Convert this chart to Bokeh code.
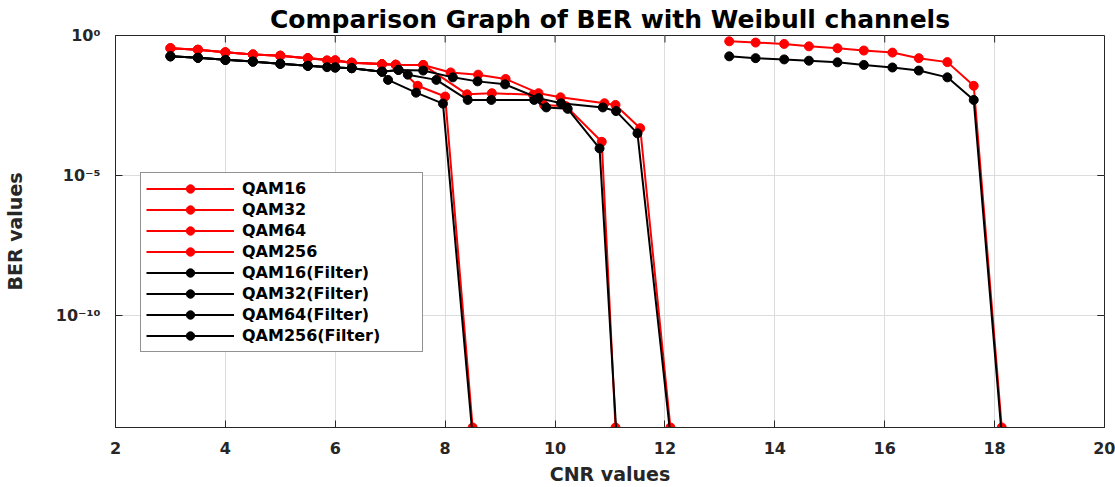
from bokeh.plotting import figure
from bokeh.models import (Range1d, FixedTicker, Legend, LegendItem)
from bokeh.embed import file_html
from bokeh.resources import INLINE

# ---------------- data ----------------
cnr_qam16 = [3.0, 3.5, 4.0, 4.5, 5.0, 5.5, 5.85, 6.3, 6.85, 7.1, 7.5, 8.0, 8.5]
ber_qam16 = [3.5e-1, 3.1e-1, 2.5e-1, 2.1e-1, 1.9e-1, 1.55e-1, 1.3e-1, 1.07e-1,
             9.5e-2, 8.9e-2, 1.6e-2, 6.6e-3, 1e-14]

cnr_qam32 = [3.0, 3.5, 4.0, 4.5, 5.0, 5.5, 6.0, 6.3, 6.85, 7.1, 7.6, 8.4, 8.85,
             9.6, 9.8, 10.2, 10.85, 11.1]
ber_qam32 = [3.5e-1, 3.1e-1, 2.5e-1, 2.1e-1, 1.9e-1, 1.55e-1, 1.3e-1, 1.07e-1,
             9.5e-2, 9.1e-2, 8.9e-2, 7.9e-3, 8.7e-3, 7.6e-3, 3.3e-3, 3.0e-3,
             1.6e-4, 1e-14]

cnr_qam64 = [3.0, 3.5, 4.0, 4.5, 5.0, 5.5, 6.0, 6.3, 6.85, 7.1, 7.6, 8.1, 8.6,
             9.1, 9.7, 10.1, 10.9, 11.1, 11.55, 12.1]
ber_qam64 = [3.5e-1, 3.1e-1, 2.5e-1, 2.1e-1, 1.9e-1, 1.55e-1, 1.3e-1, 1.07e-1,
             9.5e-2, 9.1e-2, 8.9e-2, 4.8e-2, 4.0e-2, 2.8e-2, 8.7e-3, 6.2e-3,
             3.8e-3, 3.3e-3, 4.9e-4, 1e-14]

cnr_qam256 = [13.17, 13.65, 14.17, 14.62, 15.14, 15.62, 16.14, 16.62, 17.14,
              17.62, 18.13]
ber_qam256 = [6.2e-1, 5.6e-1, 5.0e-1, 4.1e-1, 3.5e-1, 2.9e-1, 2.45e-1, 1.55e-1,
              1.12e-1, 1.6e-2, 1e-14]

cnr_qam16_f = [3.0, 3.5, 4.0, 4.5, 5.0, 5.5, 5.85, 6.0, 6.3, 6.85, 6.96, 7.47,
               7.96, 8.53]
ber_qam16_f = [1.8e-1, 1.6e-1, 1.35e-1, 1.17e-1, 9.8e-2, 8.3e-2, 7.4e-2,
               7.2e-2, 6.8e-2, 5.1e-2, 2.6e-2, 9.1e-3, 3.7e-3, 1e-15]

cnr_qam32_f = [3.0, 3.5, 4.0, 4.5, 5.0, 5.5, 6.0, 6.3, 6.85, 7.15, 7.32, 7.84,
               8.41, 8.84, 9.62, 9.84, 10.23, 10.81, 11.14]
ber_qam32_f = [1.8e-1, 1.6e-1, 1.35e-1, 1.17e-1, 9.8e-2, 8.3e-2, 7.2e-2,
               6.8e-2, 5.1e-2, 5.9e-2, 4.0e-2, 2.6e-2, 5.0e-3, 5.0e-3, 5.0e-3,
               2.7e-3, 2.4e-3, 9.3e-5, 1e-15]

cnr_qam64_f = [3.0, 3.5, 4.0, 4.5, 5.0, 5.5, 6.0, 6.3, 6.85, 7.15, 7.6, 8.14,
               8.59, 9.09, 9.7, 10.11, 10.87, 11.11, 11.5, 12.14]
ber_qam64_f = [1.8e-1, 1.6e-1, 1.35e-1, 1.17e-1, 9.8e-2, 8.3e-2, 7.2e-2,
               6.8e-2, 5.1e-2, 5.9e-2, 5.6e-2, 3.2e-2, 2.3e-2, 1.8e-2, 5.8e-3,
               3.8e-3, 2.7e-3, 2.0e-3, 3.2e-4, 1e-15]

cnr_qam256_f = [13.17, 13.65, 14.17, 14.62, 15.14, 15.62, 16.14, 16.62, 17.14,
                17.62, 18.16]
ber_qam256_f = [1.8e-1, 1.55e-1, 1.4e-1, 1.26e-1, 1.1e-1, 8.9e-2, 7.2e-2,
                5.6e-2, 3.2e-2, 5.0e-3, 1e-15]

series_labels = ["QAM16", "QAM32", "QAM64", "QAM256",
                 "QAM16(Filter)", "QAM32(Filter)", "QAM64(Filter)", "QAM256(Filter)"]
series_colors = ["#ff0000"] * 4 + ["#000000"] * 4
series_x = [cnr_qam16, cnr_qam32, cnr_qam64, cnr_qam256,
            cnr_qam16_f, cnr_qam32_f, cnr_qam64_f, cnr_qam256_f]
series_y = [ber_qam16, ber_qam32, ber_qam64, ber_qam256,
            ber_qam16_f, ber_qam32_f, ber_qam64_f, ber_qam256_f]

xtick_values = [2, 4, 6, 8, 10, 12, 14, 16, 18, 20]
xtick_labels = ["2", "4", "6", "8", "10", "12", "14", "16", "18", "20"]
ytick_values = [1e-10, 1e-5, 1.0]
ytick_labels = ["10\u207b\u00b9\u2070", "10\u207b\u2075", "10\u2070"]

title_text = "Comparison Graph of BER with Weibull channels"
xlabel_text = "CNR values"
ylabel_text = "BER values"

# ---------------- figure ----------------
FONT = "DejaVu Sans"
AX = "#262626"
X0, X1 = 2, 20
Y0, Y1 = 1e-14, 1.0

p = figure(width=1115, height=487, y_axis_type="log",
           x_range=Range1d(X0, X1), y_range=Range1d(Y0, Y1),
           output_backend="svg", toolbar_location=None,
           min_border_left=114, min_border_right=11,
           min_border_top=34, min_border_bottom=59)

p.title.text = title_text
p.title.align = "center"
p.title.text_font = FONT
p.title.text_font_size = "25px"
p.title.text_font_style = "bold"
p.title.text_color = "#000000"
p.title.standoff = 4

p.outline_line_color = AX
p.outline_line_width = 1
p.background_fill_color = "white"
p.border_fill_color = "white"

xt = FixedTicker(ticks=xtick_values)
yt = FixedTicker(ticks=ytick_values)

p.xaxis.ticker = xt
p.xaxis.major_label_overrides = dict(zip(xtick_values, xtick_labels))
p.yaxis.ticker = yt
p.yaxis.major_label_overrides = dict(zip(ytick_values, ytick_labels))

for ax in (p.xaxis[0], p.yaxis[0]):
    ax.major_tick_in = 7
    ax.major_tick_out = 0
    ax.minor_tick_line_color = None
    ax.axis_line_color = AX
    ax.major_tick_line_color = AX
    ax.major_label_text_font = FONT
    ax.major_label_text_font_style = "bold"
    ax.major_label_text_font_size = "16px"
    ax.major_label_text_color = AX
    ax.axis_label_text_font = FONT
    ax.axis_label_text_font_style = "bold"
    ax.axis_label_text_font_size = "19px"
    ax.axis_label_text_color = AX

p.xaxis.axis_label = xlabel_text
p.xaxis.major_label_standoff = 14
p.xaxis.axis_label_standoff = 6
p.yaxis.axis_label = ylabel_text
p.yaxis.major_label_standoff = 15
p.yaxis.axis_label_standoff = 27

p.xgrid.ticker = xt
p.ygrid.ticker = yt
p.xgrid.grid_line_color = "#dcdcdc"
p.ygrid.grid_line_color = "#dcdcdc"
p.xgrid.grid_line_width = 1
p.ygrid.grid_line_width = 1

# inward ticks on the top and right edges of the box (MATLAB "box on")
inner_x_ticks = [t for t in xtick_values if X0 < t < X1]
p.segment(x0=inner_x_ticks, x1=inner_x_ticks,
          y0=[Y1] * len(inner_x_ticks), y1=[Y1 * 10 ** -0.25] * len(inner_x_ticks),
          line_color=AX, line_width=1)
inner_y_ticks = [t for t in ytick_values if Y0 < t < Y1]
p.segment(x0=[X1] * len(inner_y_ticks), x1=[X1 - 0.13] * len(inner_y_ticks),
          y0=inner_y_ticks, y1=inner_y_ticks, line_color=AX, line_width=1)

items = []
for lab, col, xs, ys in zip(series_labels, series_colors, series_x, series_y):
    ln = p.line(xs, ys, line_color=col, line_width=2)
    sc = p.scatter(xs, ys, marker="circle", size=9, fill_color=col,
                   line_color=col, line_width=1)
    items.append(LegendItem(label=lab, renderers=[ln, sc]))

legend = Legend(items=items, location=(25, 75))
legend.label_text_font = FONT
legend.label_text_font_style = "bold"
legend.label_text_font_size = "16px"
legend.label_text_color = "#000000"
legend.glyph_width = 88
legend.glyph_height = 21
legend.label_height = 21
legend.label_width = 175
legend.label_standoff = 8
legend.spacing = 0
legend.padding = 5
legend.margin = 0
legend.border_line_color = AX
legend.border_line_width = 1
legend.background_fill_color = "white"
legend.background_fill_alpha = 1
p.add_layout(legend, "center")

open("out.html", "w").write(file_html(p, INLINE))
